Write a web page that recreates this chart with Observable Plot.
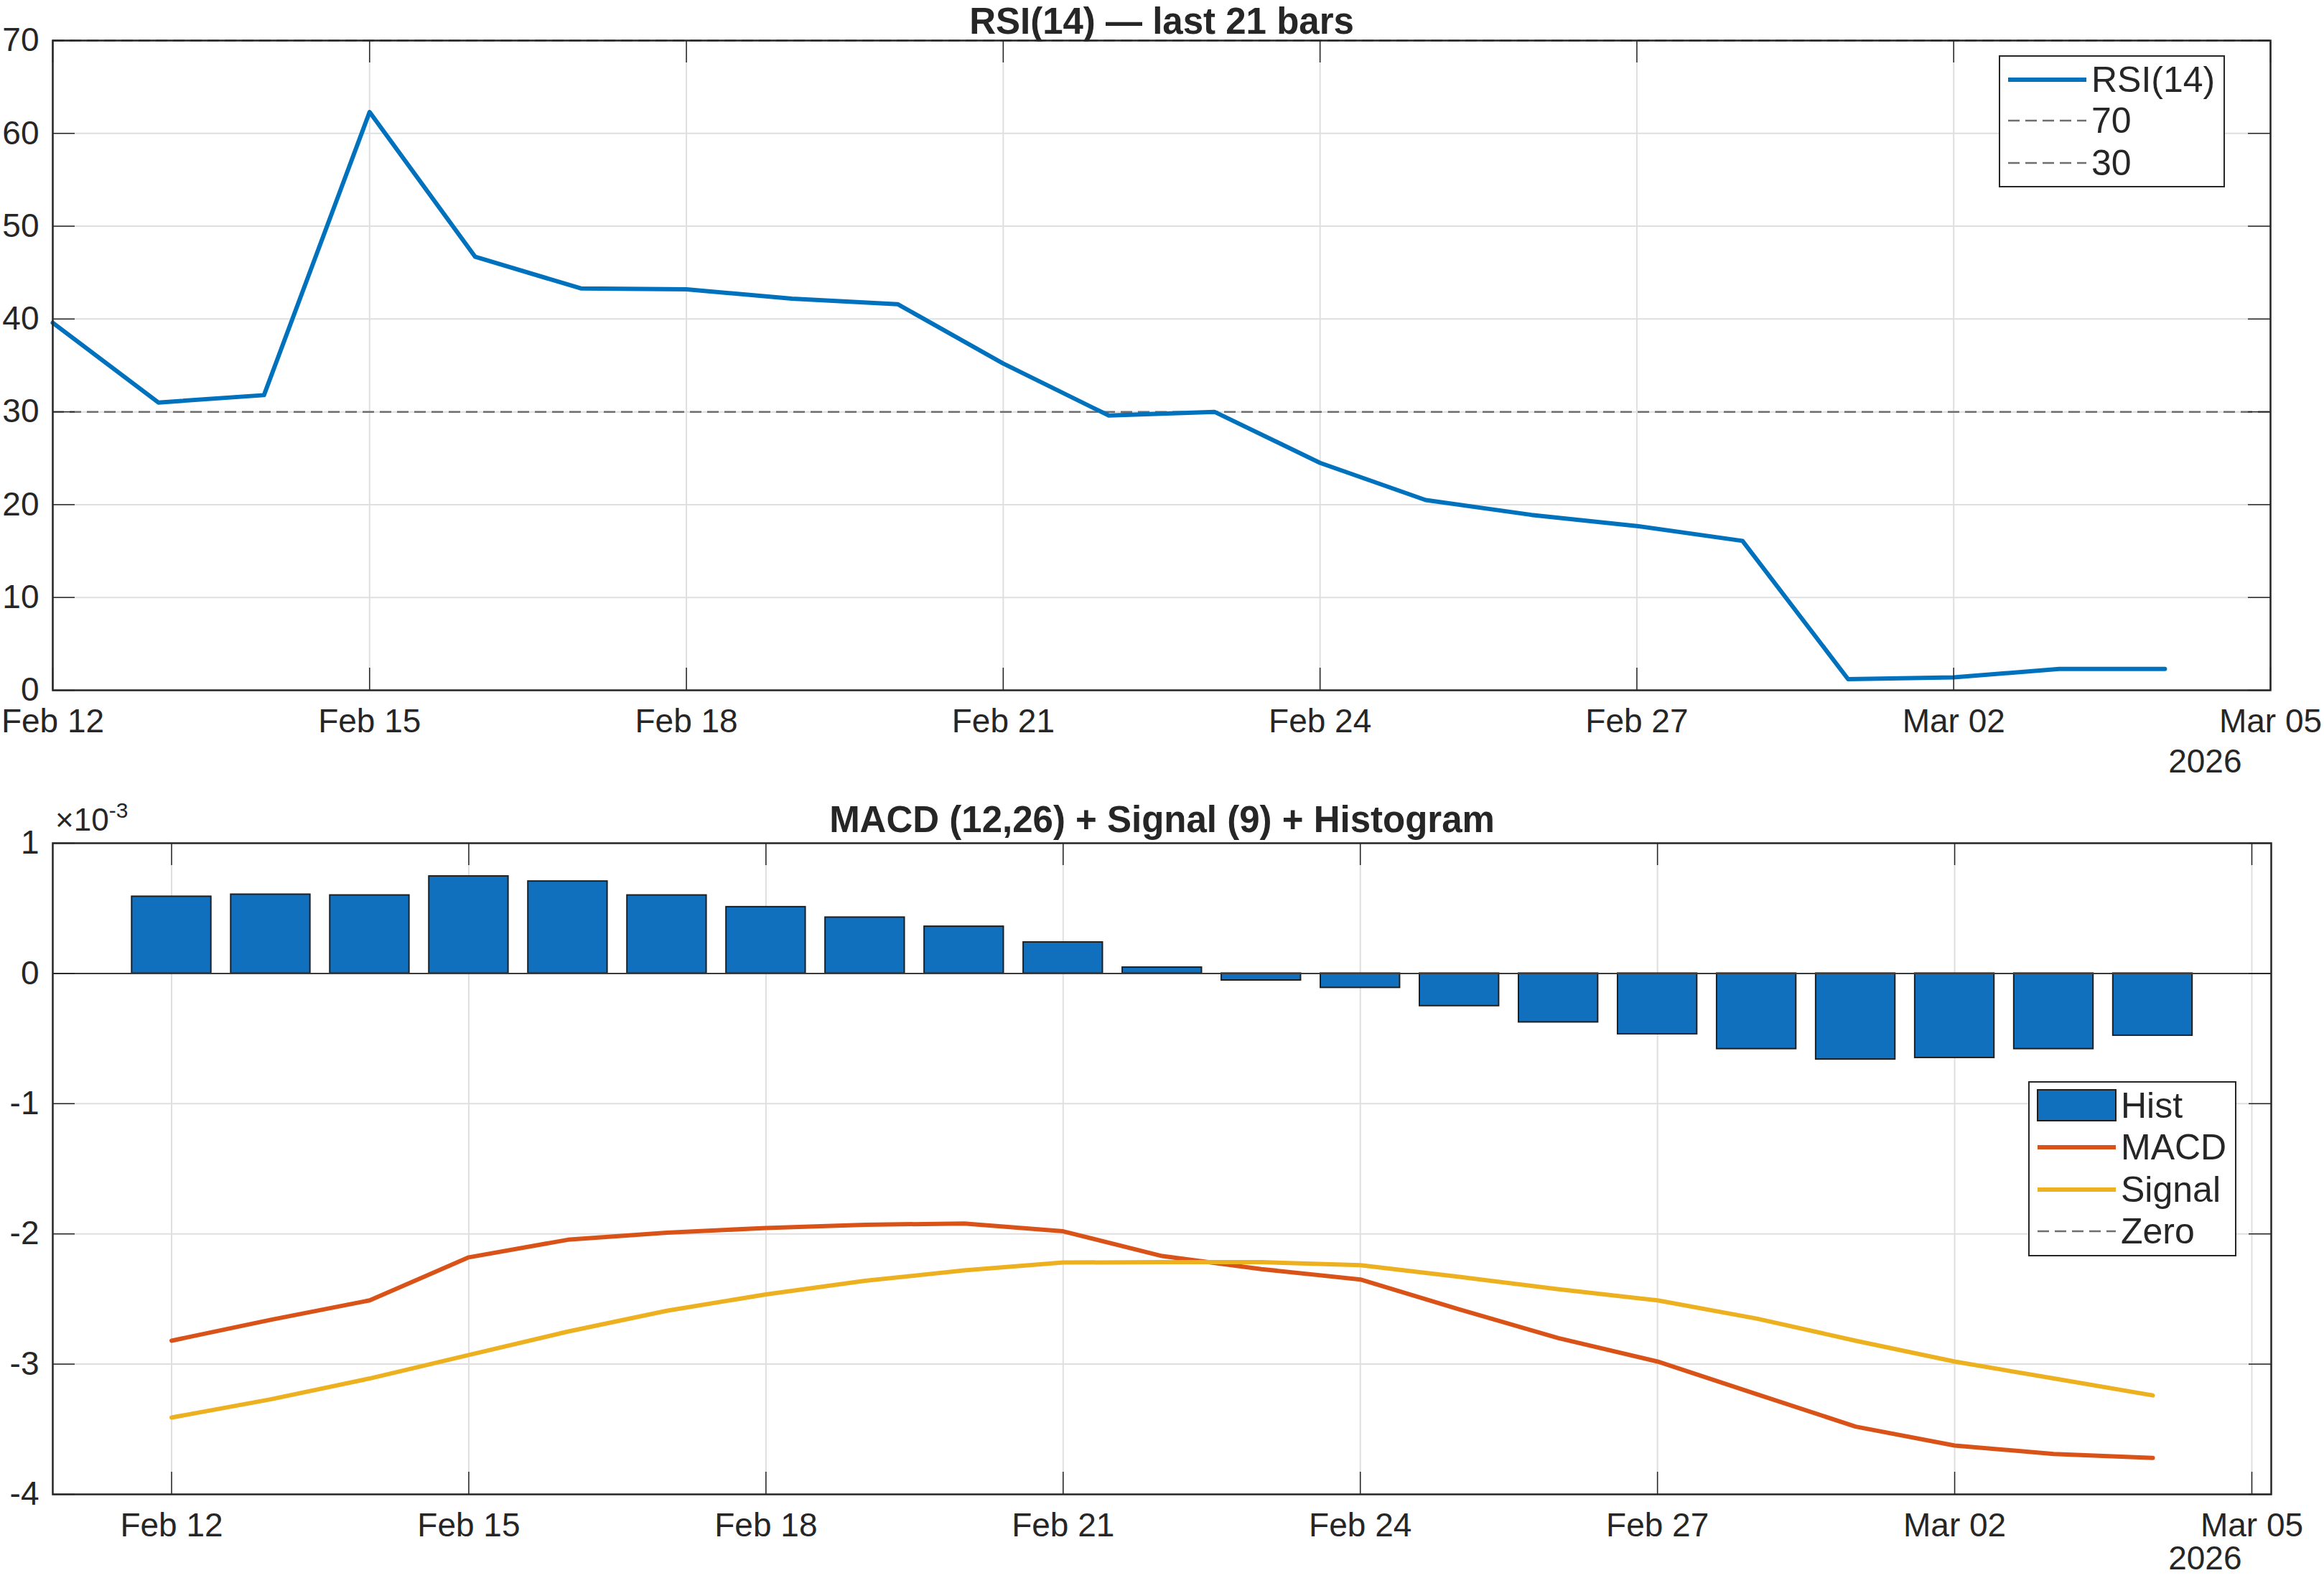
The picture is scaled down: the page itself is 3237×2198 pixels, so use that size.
<!DOCTYPE html>
<html>
<head>
<meta charset="utf-8">
<script src="https://cdn.jsdelivr.net/npm/d3@7"></script>
<script src="https://cdn.jsdelivr.net/npm/@observablehq/plot@0.6"></script>
<style>
  html, body { margin: 0; padding: 0; background: #fff; }
  #root { position: relative; width: 3237px; height: 2198px; overflow: hidden;
          font-family: "Liberation Sans", Arial, Helvetica, sans-serif; color: #262626; }
  .panel { position: absolute; left: 0; }
  .legend { position: absolute; background: #fff; border: 2.5px solid #262626; box-sizing: border-box; }
  .legend .row { position: absolute; left: 0; height: 58px; width: 100%; }
  .legend .sw { position: absolute; left: 9px; top: 0; }
  .legend .lab { position: absolute; left: 127px; top: 0; height: 58px; line-height: 58px;
                 font-size: 50px; white-space: nowrap; color: #262626; }
</style>
</head>
<body>
<div id="root"></div>
<script>
// ---------- data ----------
const days = ["2026-02-12","2026-02-13","2026-02-14","2026-02-15","2026-02-16","2026-02-17","2026-02-18",
              "2026-02-19","2026-02-20","2026-02-21","2026-02-22","2026-02-23","2026-02-24","2026-02-25",
              "2026-02-26","2026-02-27","2026-02-28","2026-03-01","2026-03-02","2026-03-03","2026-03-04"];
const rsi = [39.6, 31.0, 31.8, 62.3, 46.7, 43.3, 43.2, 42.2, 41.6, 35.2, 29.6,
             30.0, 24.5, 20.5, 18.9, 17.7, 16.1, 1.2, 1.4, 2.3, 2.3];
// MACD values in units of 1e-3
const macd = [-2.82, -2.66, -2.51, -2.18, -2.045, -1.99, -1.955, -1.93, -1.92, -1.98, -2.17,
              -2.27, -2.35, -2.58, -2.80, -2.98, -3.23, -3.48, -3.625, -3.69, -3.72];
const signal = [-3.41, -3.27, -3.11, -2.93, -2.75, -2.59, -2.465, -2.36, -2.28, -2.22, -2.216,
                -2.217, -2.24, -2.33, -2.425, -2.51, -2.65, -2.82, -2.98, -3.11, -3.24];
const hist = [0.59, 0.606, 0.60, 0.746, 0.707, 0.60, 0.51, 0.43, 0.36, 0.239, 0.046,
              -0.053, -0.11, -0.25, -0.375, -0.466, -0.58, -0.66, -0.648, -0.58, -0.477];
const xTickDays = ["2026-02-12","2026-02-15","2026-02-18","2026-02-21","2026-02-24","2026-02-27","2026-03-02","2026-03-05"];
const rsiTicks = [0, 10, 20, 30, 40, 50, 60, 70];
const macdTicks = [-4, -3, -2, -1, 0, 1];
const rsiLevels = [70, 30];
const rsiTitle = "RSI(14) — last 21 bars";
const macdTitle = "MACD (12,26) + Signal (9) + Histogram";
const yearLabel = "2026";

// ---------- helpers ----------
const DAY = 864e5;
const parse = s => new Date(s + "T00:00:00Z");
const dates = days.map(parse);
const xTicks = xTickDays.map(parse);
const fmt = d3.utcFormat("%b %d");
const intFmt = d => String(d);
const rsiData = dates.map((d, i) => ({date: d, rsi: rsi[i]}));
const macdData = dates.map((d, i) => ({date: d, macd: macd[i], signal: signal[i], hist: hist[i]}));

const W = 3237;
const FONT = '"Liberation Sans", Arial, Helvetica, sans-serif';
const INK = "#262626";
const GRID = "#dfdfdf";
const TICK = 31;
const LW = 6;
const root = document.getElementById("root");

function boxTicks(xt, yt, pw, ph) {
  return [
    Plot.ruleX(xt, {stroke: INK, strokeWidth: 1.5, insetTop: ph - TICK}),
    Plot.ruleX(xt, {stroke: INK, strokeWidth: 1.5, insetBottom: ph - TICK}),
    Plot.ruleY(yt, {stroke: INK, strokeWidth: 1.5, insetRight: pw - TICK}),
    Plot.ruleY(yt, {stroke: INK, strokeWidth: 1.5, insetLeft: pw - TICK})
  ];
}

// ---------- top panel: RSI ----------
{
  const H = 1090, mt = 56, mb = 129, ml = 73, mr = 75;
  const pw = W - ml - mr, ph = H - mt - mb;
  const chart = Plot.plot({
    width: W, height: H,
    marginTop: mt, marginBottom: mb, marginLeft: ml, marginRight: mr,
    style: {fontFamily: FONT, fontSize: "46px", color: INK, background: "transparent", overflow: "visible"},
    x: {type: "utc", domain: [parse("2026-02-12"), parse("2026-03-05")]},
    y: {domain: [0, 70]},
    marks: [
      Plot.gridX(xTicks, {stroke: GRID, strokeOpacity: 1, strokeWidth: 2}),
      Plot.gridY(rsiTicks, {stroke: GRID, strokeOpacity: 1, strokeWidth: 2}),
      Plot.ruleY(rsiLevels, {stroke: "#6e6e6e", strokeWidth: 2.5, strokeDasharray: "16,8"}),
      Plot.lineY(rsiData, {x: "date", y: "rsi", stroke: "#0072BD", strokeWidth: LW, strokeLinejoin: "round"}),
      ...boxTicks(xTicks, rsiTicks, pw, ph),
      Plot.axisX(xTicks, {tickSize: 0, tickPadding: 26, tickFormat: fmt, fontSize: 46, label: null, fill: INK}),
      Plot.axisY(rsiTicks, {tickSize: 0, tickPadding: 19, tickFormat: intFmt, fontSize: 46, label: null, fill: INK}),
      Plot.frame({stroke: INK, strokeWidth: 2.5}),
      Plot.text([rsiTitle], {frameAnchor: "top", lineAnchor: "bottom", dy: -10, fontSize: 51, fontWeight: "bold", fill: INK}),
      Plot.text([yearLabel], {frameAnchor: "bottom-right", textAnchor: "end", lineAnchor: "top", dx: -40, dy: 82, fontSize: 46, fill: INK})
    ]
  });
  chart.classList.add("panel");
  chart.style.top = "0px";
  root.appendChild(chart);
}

// ---------- bottom panel: MACD ----------
{
  const top = 1090;
  const H = 1108, mt = 84, mb = 117, ml = 73, mr = 74;
  const pw = W - ml - mr, ph = H - mt - mb;
  const x0 = new Date(+parse("2026-02-12") - 1.1995 * DAY);
  const x1 = new Date(+parse("2026-03-05") + 0.1957 * DAY);
  const chart = Plot.plot({
    width: W, height: H,
    marginTop: mt, marginBottom: mb, marginLeft: ml, marginRight: mr,
    style: {fontFamily: FONT, fontSize: "46px", color: INK, background: "transparent", overflow: "visible"},
    x: {type: "utc", domain: [x0, x1]},
    y: {domain: [-4, 1]},
    marks: [
      Plot.gridX(xTicks, {stroke: GRID, strokeOpacity: 1, strokeWidth: 2}),
      Plot.gridY(macdTicks, {stroke: GRID, strokeOpacity: 1, strokeWidth: 2}),
      Plot.rect(macdData, {
        x1: d => new Date(+d.date - 0.4 * DAY), x2: d => new Date(+d.date + 0.4 * DAY),
        y1: 0, y2: "hist", fill: "#1170BE", stroke: "#1f1f1f", strokeWidth: 2
      }),
      Plot.ruleY([0], {stroke: "#3a3a3a", strokeWidth: 2}),
      Plot.lineY(macdData, {x: "date", y: "macd", stroke: "#D95319", strokeWidth: LW, strokeLinejoin: "round"}),
      Plot.lineY(macdData, {x: "date", y: "signal", stroke: "#EDB120", strokeWidth: LW, strokeLinejoin: "round"}),
      ...boxTicks(xTicks, macdTicks, pw, ph),
      Plot.axisX(xTicks, {tickSize: 0, tickPadding: 26, tickFormat: fmt, fontSize: 46, label: null, fill: INK}),
      Plot.axisY(macdTicks, {tickSize: 0, tickPadding: 19, tickFormat: intFmt, fontSize: 46, label: null, fill: INK}),
      Plot.frame({stroke: INK, strokeWidth: 2.5}),
      Plot.text([macdTitle], {frameAnchor: "top", lineAnchor: "bottom", dy: -16, fontSize: 51, fontWeight: "bold", fill: INK}),
      Plot.text([yearLabel], {frameAnchor: "bottom-right", textAnchor: "end", lineAnchor: "top", dx: -41, dy: 72, fontSize: 46, fill: INK})
    ]
  });
  chart.classList.add("panel");
  chart.style.top = top + "px";
  root.appendChild(chart);
}

// ---------- exponent label ----------
{
  const ns = "http://www.w3.org/2000/svg";
  const svg = document.createElementNS(ns, "svg");
  svg.setAttribute("width", 300); svg.setAttribute("height", 80);
  svg.style.position = "absolute"; svg.style.left = "0px"; svg.style.top = "1100px";
  const t = document.createElementNS(ns, "text");
  t.setAttribute("x", 77); t.setAttribute("y", 57);
  t.setAttribute("font-family", FONT); t.setAttribute("font-size", 44); t.setAttribute("fill", INK);
  t.appendChild(document.createTextNode("×10"));
  const s = document.createElementNS(ns, "tspan");
  s.setAttribute("dy", -18); s.setAttribute("font-size", 30);
  s.textContent = "-3";
  t.appendChild(s);
  svg.appendChild(t);
  root.appendChild(svg);
}

// ---------- legends ----------
function lineSwatch(color, dash, width) {
  return `<svg class="sw" width="115" height="58"><line x1="2" x2="111" y1="29" y2="29" stroke="${color}" stroke-width="${width}" ${dash ? `stroke-dasharray="${dash}"` : ""}/></svg>`;
}
function rectSwatch(color) {
  return `<svg class="sw" width="115" height="58"><rect x="2" y="7" width="109" height="43" fill="${color}" stroke="#1f1f1f" stroke-width="2"/></svg>`;
}
function legend(left, top, width, height, rows) {
  const div = document.createElement("div");
  div.className = "legend";
  Object.assign(div.style, {left: left + "px", top: top + "px", width: width + "px", height: height + "px"});
  rows.forEach((r, i) => {
    const row = document.createElement("div");
    row.className = "row";
    row.style.top = (r.cy - 29 - 2) + "px";
    row.innerHTML = r.swatch + `<div class="lab">${r.label}</div>`;
    div.appendChild(row);
  });
  root.appendChild(div);
}
const rsiLegendLabels = ["RSI(14)", "70", "30"];
legend(2784, 77, 315, 184, [
  {cy: 34, label: rsiLegendLabels[0], swatch: lineSwatch("#0072BD", null, LW)},
  {cy: 91, label: rsiLegendLabels[1], swatch: lineSwatch("#6e6e6e", "16,8", 2.5)},
  {cy: 150, label: rsiLegendLabels[2], swatch: lineSwatch("#6e6e6e", "16,8", 2.5)}
]);
const macdLegendLabels = ["Hist", "MACD", "Signal", "Zero"];
legend(2825, 1506, 290, 244, [
  {cy: 34, label: macdLegendLabels[0], swatch: rectSwatch("#1170BE")},
  {cy: 92, label: macdLegendLabels[1], swatch: lineSwatch("#D95319", null, LW)},
  {cy: 151, label: macdLegendLabels[2], swatch: lineSwatch("#EDB120", null, LW)},
  {cy: 209, label: macdLegendLabels[3], swatch: lineSwatch("#6e6e6e", "16,8", 2.5)}
]);
</script>
</body>
</html>
